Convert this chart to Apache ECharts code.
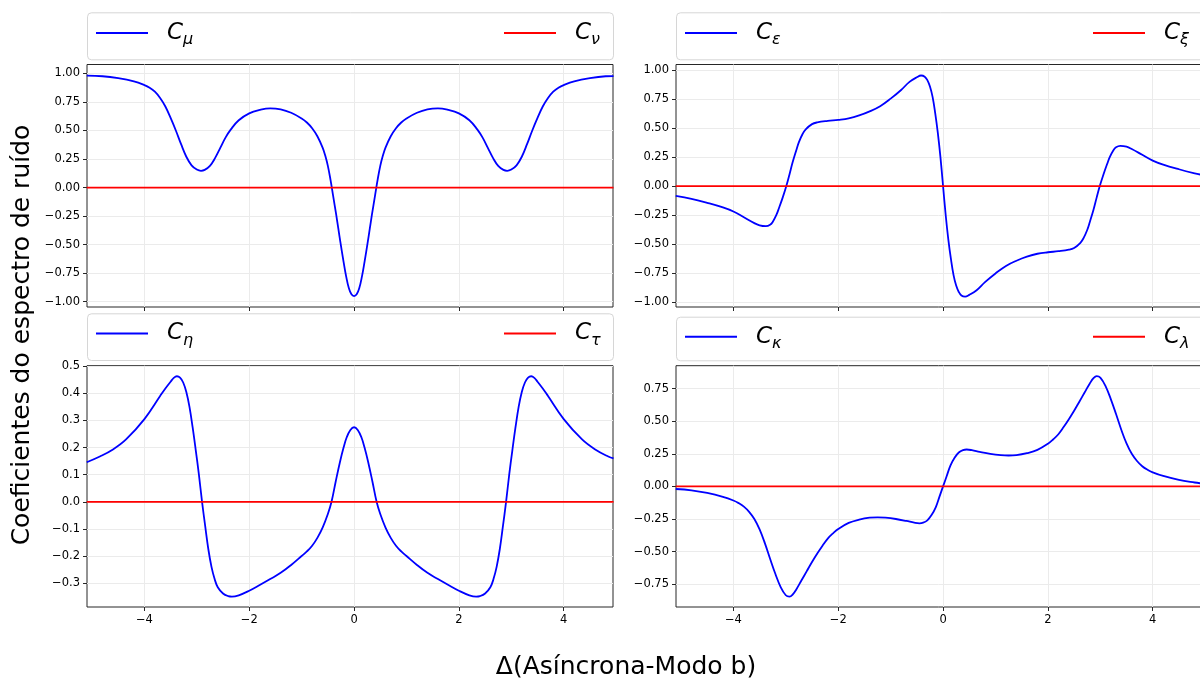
<!DOCTYPE html>
<html><head><meta charset="utf-8">
<script src="https://cdn.jsdelivr.net/npm/echarts@6/dist/echarts.min.js"></script>
<style>html,body{margin:0;padding:0;background:#fff}#c{width:1200px;height:684px}</style>
</head><body><div id="c"></div>
<script>
// ---- tick labels ----
const xTicks = [-4, -2, 0, 2, 4];
const yTicksMu = [-1, -0.75, -0.5, -0.25, 0, 0.25, 0.5, 0.75, 1];
const yTicksEps = [-1, -0.75, -0.5, -0.25, 0, 0.25, 0.5, 0.75, 1];
const yTicksEta = [-0.3, -0.2, -0.1, 0, 0.1, 0.2, 0.3, 0.4, 0.5];
const yTicksKap = [-0.75, -0.5, -0.25, 0, 0.25, 0.5, 0.75];

// ---- series names ----
const namesBlue = ['Cμ', 'Cε', 'Cη', 'Cκ'];
const namesRed = ['Cν', 'Cξ', 'Cτ', 'Cλ'];

// ---- C_mu ----
const muX = [-5.1,-4.8,-4.5,-4.2,-4.0,-3.9,-3.8,-3.7,-3.6,-3.5,-3.4,-3.3,-3.2,-3.1,-3.0,-2.92,-2.85,-2.75,-2.65,-2.55,-2.45,-2.35,-2.2,-2.0,-1.8,-1.6,-1.4,-1.2,-1.0,-0.9,-0.8,-0.7,-0.6,-0.55,-0.5,-0.45,-0.4,-0.34,-0.3,-0.26,-0.2,-0.15,-0.1,-0.05,0,
  0.05,0.1,0.15,0.2,0.26,0.3,0.34,0.4,0.45,0.5,0.55,0.6,0.7,0.8,0.9,1.0,1.2,1.4,1.6,1.8,2.0,2.2,2.35,2.45,2.55,2.65,2.75,2.85,2.92,3.0,3.1,3.2,3.3,3.4,3.5,3.6,3.7,3.8,3.9,4.0,4.2,4.5,4.8,4.95];
const muY = [0.98,0.975,0.958,0.93,0.898,0.875,0.84,0.785,0.71,0.61,0.50,0.38,0.27,0.195,0.158,0.147,0.155,0.19,0.26,0.35,0.44,0.51,0.59,0.65,0.68,0.694,0.685,0.655,0.605,0.57,0.52,0.45,0.35,0.28,0.19,0.07,-0.07,-0.24,-0.36,-0.48,-0.65,-0.78,-0.88,-0.935,-0.95,
  -0.935,-0.88,-0.78,-0.65,-0.48,-0.36,-0.24,-0.07,0.07,0.19,0.28,0.35,0.45,0.52,0.57,0.605,0.655,0.685,0.694,0.68,0.65,0.59,0.51,0.44,0.35,0.26,0.19,0.155,0.147,0.158,0.195,0.27,0.38,0.50,0.61,0.71,0.785,0.84,0.875,0.898,0.93,0.958,0.975,0.977];

// ---- C_epsilon ----
const epsX = [-5.1,-4.8,-4.5,-4.2,-4.0,-3.8,-3.6,-3.5,-3.38,-3.3,-3.25,-3.18,-3.13,-3.06,-2.99,-2.93,-2.87,-2.8,-2.75,-2.68,-2.62,-2.5,-2.4,-2.2,-2.0,-1.8,-1.6,-1.4,-1.2,-1.0,-0.8,-0.64,-0.5,-0.42,-0.35,-0.3,-0.25,-0.2,-0.15,-0.1,-0.05,0,
  0.05,0.1,0.15,0.2,0.25,0.3,0.35,0.42,0.5,0.64,0.8,1.0,1.2,1.4,1.6,1.8,2.0,2.2,2.4,2.5,2.62,2.68,2.75,2.8,2.87,2.93,2.99,3.06,3.13,3.18,3.25,3.3,3.38,3.5,3.6,3.8,4.0,4.2,4.5,4.8,4.95];
const epsY = [-0.084,-0.11,-0.145,-0.185,-0.22,-0.27,-0.32,-0.34,-0.347,-0.335,-0.31,-0.25,-0.19,-0.10,0,0.10,0.205,0.31,0.38,0.45,0.49,0.535,0.55,0.563,0.572,0.585,0.61,0.645,0.69,0.755,0.83,0.9,0.94,0.955,0.945,0.915,0.86,0.77,0.63,0.46,0.25,0,
  -0.25,-0.46,-0.63,-0.77,-0.86,-0.915,-0.945,-0.955,-0.94,-0.9,-0.83,-0.755,-0.69,-0.645,-0.61,-0.585,-0.572,-0.563,-0.55,-0.535,-0.49,-0.45,-0.38,-0.31,-0.205,-0.10,0,0.10,0.19,0.25,0.31,0.335,0.347,0.34,0.32,0.27,0.22,0.185,0.145,0.11,0.095];

// ---- C_eta ----
const etaX = [-5.1,-4.85,-4.6,-4.35,-4.0,-3.7,-3.6,-3.5,-3.44,-3.38,-3.32,-3.26,-3.2,-3.14,-3.08,-3.02,-2.96,-2.9,-2.84,-2.78,-2.72,-2.66,-2.6,-2.5,-2.4,-2.33,-2.2,-2.0,-1.8,-1.6,-1.4,-1.2,-1.0,-0.9,-0.8,-0.7,-0.6,-0.5,-0.43,-0.35,-0.27,-0.2,-0.14,-0.07,0,
  0.07,0.14,0.2,0.27,0.35,0.43,0.5,0.6,0.7,0.8,0.9,1.0,1.2,1.4,1.6,1.8,2.0,2.2,2.33,2.4,2.5,2.6,2.66,2.72,2.78,2.84,2.9,2.96,3.02,3.08,3.14,3.2,3.26,3.32,3.38,3.44,3.5,3.6,3.7,4.0,4.35,4.6,4.85,4.95];
const etaY = [0.146,0.167,0.193,0.23,0.305,0.39,0.418,0.443,0.457,0.463,0.458,0.44,0.405,0.35,0.275,0.19,0.1,0.0,-0.09,-0.175,-0.24,-0.285,-0.315,-0.338,-0.348,-0.35,-0.345,-0.328,-0.307,-0.285,-0.262,-0.233,-0.2,-0.183,-0.162,-0.133,-0.095,-0.045,0.0,0.075,0.146,0.2,0.238,0.265,0.275,
  0.265,0.238,0.2,0.146,0.075,0.0,-0.045,-0.095,-0.133,-0.162,-0.183,-0.2,-0.233,-0.262,-0.285,-0.307,-0.328,-0.345,-0.35,-0.348,-0.338,-0.315,-0.285,-0.24,-0.175,-0.09,0.0,0.1,0.19,0.275,0.35,0.405,0.44,0.458,0.463,0.457,0.443,0.418,0.39,0.305,0.23,0.193,0.167,0.16];

// ---- C_kappa ----
const kapX = [-5.1,-4.8,-4.5,-4.2,-4.0,-3.9,-3.8,-3.7,-3.6,-3.5,-3.4,-3.3,-3.2,-3.1,-3.0,-2.93,-2.87,-2.8,-2.7,-2.6,-2.5,-2.4,-2.3,-2.2,-2.1,-2.0,-1.8,-1.6,-1.4,-1.25,-1.1,-0.9,-0.7,-0.55,-0.45,-0.38,-0.3,-0.22,-0.14,-0.07,0,
  0.07,0.14,0.22,0.3,0.38,0.45,0.55,0.7,0.9,1.1,1.25,1.4,1.6,1.8,2.0,2.1,2.2,2.3,2.4,2.5,2.6,2.7,2.8,2.87,2.93,3.0,3.1,3.2,3.3,3.4,3.5,3.6,3.7,3.8,3.9,4.0,4.2,4.5,4.8,4.95];
const kapY = [-0.02,-0.03,-0.05,-0.08,-0.108,-0.128,-0.155,-0.195,-0.25,-0.33,-0.435,-0.555,-0.67,-0.77,-0.835,-0.846,-0.83,-0.79,-0.72,-0.65,-0.58,-0.515,-0.455,-0.40,-0.36,-0.327,-0.28,-0.255,-0.24,-0.237,-0.24,-0.25,-0.265,-0.278,-0.283,-0.278,-0.26,-0.22,-0.16,-0.08,0,
  0.08,0.16,0.22,0.26,0.278,0.283,0.278,0.265,0.25,0.24,0.237,0.24,0.255,0.28,0.327,0.36,0.40,0.455,0.515,0.58,0.65,0.72,0.79,0.83,0.846,0.835,0.77,0.67,0.555,0.435,0.33,0.25,0.195,0.155,0.128,0.108,0.08,0.05,0.03,0.022];

// ---- red (zero) series ----
const zeroX = [-5.1, 4.95];
const nuY = [0, 0];
const xiY = [0, 0];
const tauY = [0, 0];
const lamY = [0, 0];

// ---------------------------------------------------------
const zip = (xs, ys) => xs.map((x, i) => [x, ys[i]]);
const minus = s => s.replace('-', '\u2212');
const FONT = '"DejaVu Sans", sans-serif';
const AX = '#262626';

const panels = [
  {left: 87,  top: 64.5,  height: 242.5, ymin: -1.046, ymax: 1.078, ticks: yTicksMu,  dec: 2, xl: false,
   bx: muX, by: muY, ry: nuY, box: [87, 12.3, 526, 47], ly: 32.3},
  {left: 676, top: 64.5,  height: 242.5, ymin: -1.045, ymax: 1.05,  ticks: yTicksEps, dec: 2, xl: false,
   bx: epsX, by: epsY, ry: xiY, box: [676, 12.3, 540, 47], ly: 32.3},
  {left: 87,  top: 365.7, height: 241.3, ymin: -0.388, ymax: 0.502, ticks: yTicksEta, dec: 1, xl: true,
   bx: etaX, by: etaY, ry: tauY, box: [87, 313.3, 526, 46.7], ly: 332.7},
  {left: 676, top: 365.7, height: 241.3, ymin: -0.925, ymax: 0.926, ticks: yTicksKap, dec: 2, xl: true,
   bx: kapX, by: kapY, ry: lamY, box: [676, 316.7, 540, 43.6], ly: 336}
];

const grids = [], xAxes = [], yAxes = [], series = [], legends = [], graphics = [];
const rich = {
  c: {fontSize: 23, fontStyle: 'italic', fontFamily: FONT, color: '#000', lineHeight: 30, padding: [0, 0, 0, 14]},
  s: {fontSize: 16, fontStyle: 'italic', fontFamily: FONT, color: '#000', lineHeight: 16, verticalAlign: 'bottom'}
};
panels.forEach((p, i) => {
  grids.push({left: p.left, top: p.top, width: 526, height: p.height, show: true,
    borderColor: AX, borderWidth: 1, backgroundColor: 'transparent', outerBoundsMode: 'none'});
  xAxes.push({type: 'value', gridIndex: i, min: -5.095, max: 4.94, position: 'bottom',
    axisLine: {show: false, onZero: false},
    axisTick: {show: true, customValues: xTicks, length: 4, lineStyle: {color: AX, width: 1}},
    axisLabel: {show: p.xl, customValues: xTicks, fontSize: 11.5, fontFamily: FONT, color: '#000', margin: 7,
      formatter: v => minus(String(v))},
    splitLine: {show: true, lineStyle: {color: '#ebebeb', width: 1}}
  });
  yAxes.push({type: 'value', gridIndex: i, min: p.ymin, max: p.ymax, position: 'left',
    axisLine: {show: false, onZero: false},
    axisTick: {show: true, customValues: p.ticks, length: 4, lineStyle: {color: AX, width: 1}},
    axisLabel: {show: true, customValues: p.ticks, fontSize: 11.5, fontFamily: FONT, color: '#000', margin: 7,
      formatter: v => minus(Number(v).toFixed(p.dec))},
    splitLine: {show: true, lineStyle: {color: '#ebebeb', width: 1}}
  });
  series.push({name: namesBlue[i], type: 'line', xAxisIndex: i, yAxisIndex: i, data: zip(p.bx, p.by),
    showSymbol: false, smooth: 0.4, lineStyle: {color: '#0000ff', width: 1.8}, itemStyle: {color: '#0000ff'}, z: 2, animation: false});
  series.push({name: namesRed[i], type: 'line', xAxisIndex: i, yAxisIndex: i, data: zip(zeroX, p.ry),
    showSymbol: false, lineStyle: {color: '#ff0000', width: 1.8}, itemStyle: {color: '#ff0000'}, z: 3, animation: false});
  const [bx, bxy, bw, bh] = p.box;
  graphics.push({type: 'rect', shape: {x: bx + 0.5, y: bxy + 0.5, width: bw, height: bh, r: 4},
    style: {fill: '#fff', stroke: '#d6d6d6', lineWidth: 1}, z: 0});
  const common = {top: p.ly - 10.7, icon: 'rect', itemWidth: 52, itemHeight: 2, itemGap: 0, padding: 0,
    selectedMode: false, z: 10, formatter: n => '{c|C}{s|' + n.slice(1) + '}', textStyle: {rich}};
  legends.push(Object.assign({data: [namesBlue[i]], left: p.left + 9}, common));
  legends.push(Object.assign({data: [namesRed[i]], left: p.left + 417}, common));
});

graphics.push({type: 'text', x: 22, y: 335, rotation: Math.PI / 2, z: 10,
  style: {text: 'Coeficientes do espectro de ruído', font: '25px ' + FONT, fill: '#000', align: 'center', verticalAlign: 'middle'}});
graphics.push({type: 'text', x: 626, y: 667, z: 10,
  style: {text: 'Δ(Asíncrona-Modo b)', font: '25px ' + FONT, fill: '#000', align: 'center', verticalAlign: 'middle'}});

const chart = echarts.init(document.getElementById('c'), null, {renderer: 'canvas'});
chart.setOption({
  animation: false,
  backgroundColor: '#fff',
  grid: grids, xAxis: xAxes, yAxis: yAxes, series, legend: legends,
  graphic: {elements: graphics}
});
</script></body></html>
